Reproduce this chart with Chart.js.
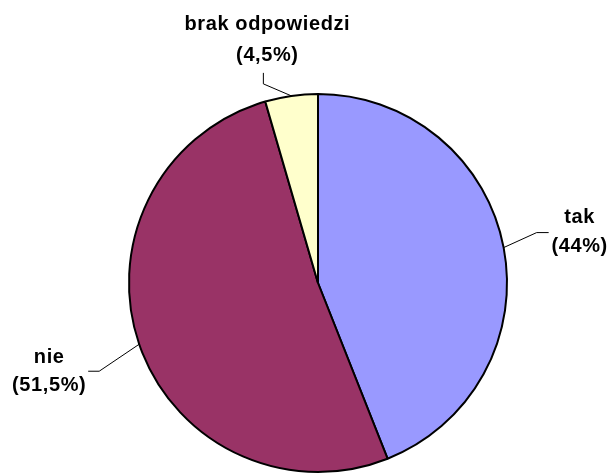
<!DOCTYPE html>
<html>
<head>
<meta charset="utf-8">
<script src="https://cdn.jsdelivr.net/npm/chart.js@4/dist/chart.umd.min.js"></script>
<style>
  html, body { margin: 0; padding: 0; background: #fff; }
  #wrap { width: 613px; height: 475px; }
</style>
</head>
<body>
<div id="wrap"><canvas id="pie" width="613" height="475"></canvas></div>
<script>
const categories = ['tak', 'nie', 'brak odpowiedzi'];
const shares = [44, 51.5, 4.5];
const sliceColors = ['#9999FF', '#993366', '#FFFFCC'];

// leader line + label placement, relative to the point on the rim at each slice's mid angle
const labelLayout = [
  { elbow: [33, -15], end: [45, -15], text: [76, -30], gap: 29 },
  { elbow: [-40, 27], end: [-51, 27], text: [-90, 13], gap: 28 },
  { elbow: [-28, -12], end: [-28, -23], text: [-24, -71], gap: 31 },
];

function pctLabel(v) {
  return '(' + String(v).replace('.', ',') + '%)';
}

const calloutPlugin = {
  id: 'callouts',
  afterDraw(chart) {
    const ctx = chart.ctx;
    const meta = chart.getDatasetMeta(0);
    ctx.save();
    meta.data.forEach((arc, i) => {
      const mid = (arc.startAngle + arc.endAngle) / 2;
      const ax = arc.x + Math.cos(mid) * arc.outerRadius;
      const ay = arc.y + Math.sin(mid) * arc.outerRadius;
      const lay = labelLayout[i];

      ctx.strokeStyle = '#000';
      ctx.lineWidth = 1;
      ctx.beginPath();
      ctx.moveTo(ax + lay.end[0], ay + lay.end[1]);
      ctx.lineTo(ax + lay.elbow[0], ay + lay.elbow[1]);
      ctx.lineTo(ax, ay);
      ctx.stroke();

      ctx.fillStyle = '#000';
      ctx.font = 'bold 20px "Liberation Sans", Arial, sans-serif';
      ctx.letterSpacing = '0.6px';
      ctx.textAlign = 'center';
      ctx.textBaseline = 'middle';
      const tx = ax + lay.text[0];
      const ty = ay + lay.text[1];
      ctx.fillText(categories[i], tx, ty);
      ctx.fillText(pctLabel(shares[i]), tx, ty + lay.gap);
    });
    ctx.restore();
  }
};

new Chart(document.getElementById('pie'), {
  type: 'pie',
  data: {
    labels: categories,
    datasets: [{
      data: shares,
      backgroundColor: sliceColors,
      borderColor: '#000',
      borderWidth: 2,
    }],
  },
  options: {
    responsive: false,
    animation: false,
    layout: { padding: { top: 93, bottom: 2, left: 23, right: 0 } },
    plugins: {
      legend: { display: false },
      tooltip: { enabled: false },
    },
  },
  plugins: [calloutPlugin],
});
</script>
</body>
</html>
